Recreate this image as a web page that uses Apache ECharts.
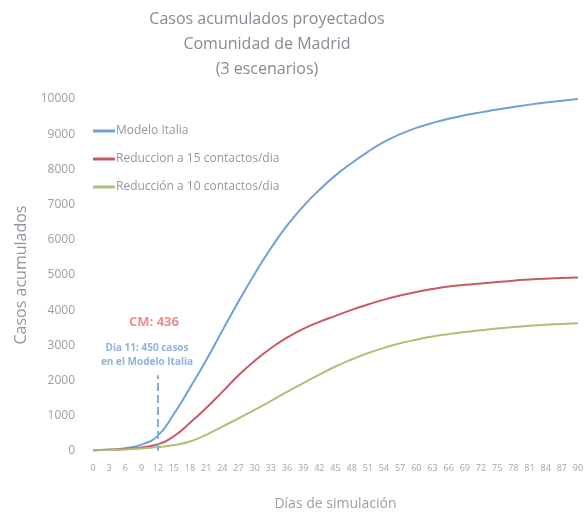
<!DOCTYPE html>
<html>
<head>
<meta charset="utf-8">
<title>Casos acumulados proyectados</title>
<script src="https://cdn.jsdelivr.net/npm/echarts@6/dist/echarts.min.js"></script>
<style>
  body { margin: 0; background: #fff; }
  #chart { width: 587px; height: 516px; }
</style>
</head>
<body>
<div id="chart"></div>
<script>
// dias de simulacion (cada 3 dias)
var dias = [0, 3, 6, 9, 12, 15, 18, 21, 24, 27, 30, 33, 36, 39, 42, 45, 48, 51, 54, 57, 60, 63, 66, 69, 72, 75, 78, 81, 84, 87, 90];

var modeloItalia = [20, 40, 80, 180, 430, 1050, 1800, 2580, 3420, 4250, 5030, 5760, 6400, 6950, 7420, 7830, 8180, 8500, 8780, 9000, 9180, 9320, 9440, 9540, 9620, 9700, 9770, 9840, 9900, 9950, 10000];
var reduccion15 = [20, 35, 60, 100, 190, 420, 800, 1220, 1680, 2150, 2560, 2920, 3220, 3470, 3670, 3840, 4010, 4160, 4300, 4420, 4520, 4600, 4670, 4720, 4760, 4800, 4840, 4870, 4895, 4915, 4930];
var reduccion10 = [20, 30, 45, 70, 110, 170, 270, 460, 690, 930, 1170, 1420, 1680, 1930, 2170, 2400, 2600, 2780, 2930, 3060, 3160, 3250, 3320, 3380, 3430, 3480, 3520, 3555, 3585, 3610, 3630];

var nombres = ['Modelo Italia', 'Reduccion a 15 contactos/dia', 'Reducción a 10 contactos/dia'];
var colores = ['#6fa0d8', '#c95a63', '#a9c27a'];

// anotacion dia 11
var diaMarca = 12;
var topeMarca = 2150;

function pares(arr) {
    return dias.map(function (d, i) { return [d, arr[i]]; });
}

var chart = echarts.init(document.getElementById('chart'));

var option = {
    animation: false,
    textStyle: { fontFamily: 'Open Sans' },
    title: {
        text: 'Casos acumulados proyectados\nComunidad de Madrid\n(3 escenarios)',
        left: 262,
        textAlign: 'center',
        top: 2,
        textStyle: { fontSize: 16, fontWeight: 'normal', color: '#858b95', lineHeight: 25, fontFamily: 'Open Sans' }
    },
    legend: {
        orient: 'vertical',
        left: 88,
        top: 120,
        itemGap: 16,
        itemWidth: 22,
        itemHeight: 3,
        icon: 'rect',
        data: nombres,
        textStyle: { fontSize: 12, color: '#9298a2', padding: [0, 0, 0, -4] }
    },
    grid: { left: 93, right: 9, top: 99, bottom: 61 },
    xAxis: {
        type: 'value',
        min: 0,
        max: 90,
        interval: 3,
        name: 'Días de simulación',
        nameLocation: 'middle',
        nameGap: 46,
        nameTextStyle: { fontSize: 14, color: '#9aa0a8' },
        axisLine: { show: false },
        axisTick: { show: false },
        splitLine: { show: false },
        axisLabel: { fontSize: 9, color: '#a0a4aa', margin: 13 }
    },
    yAxis: {
        type: 'value',
        min: 0,
        max: 10000,
        interval: 1000,
        name: 'Casos acumulados',
        nameLocation: 'middle',
        nameGap: 53,
        nameTextStyle: { fontSize: 16, color: '#8f959e' },
        axisLine: { show: false },
        axisTick: { show: false },
        splitLine: { show: false },
        axisLabel: {
            fontSize: 12,
            color: '#9aa0a8',
            margin: 18,
            formatter: function (v) { return String(v); }
        }
    },
    series: [
        {
            name: nombres[0],
            type: 'line',
            smooth: true,
            showSymbol: false,
            data: pares(modeloItalia),
            lineStyle: { width: 2, color: colores[0] },
            itemStyle: { color: colores[0] },
            markLine: {
                silent: true,
                symbol: 'none',
                lineStyle: { type: 'dashed', color: '#86acd9', width: 2 },
                label: { show: false },
                data: [[{ coord: [diaMarca, 0] }, { coord: [diaMarca, topeMarca] }]]
            }
        },
        {
            name: nombres[1],
            type: 'line',
            smooth: true,
            showSymbol: false,
            data: pares(reduccion15),
            lineStyle: { width: 2, color: colores[1] },
            itemStyle: { color: colores[1] }
        },
        {
            name: nombres[2],
            type: 'line',
            smooth: true,
            showSymbol: false,
            data: pares(reduccion10),
            lineStyle: { width: 2, color: colores[2] },
            itemStyle: { color: colores[2] }
        }
    ],
    graphic: [
        {
            type: 'text',
            x: 154,
            y: 316,
            style: { text: 'CM: 436', fontSize: 13, fontWeight: 'bold', fill: '#f08a8a', align: 'center', fontFamily: 'Open Sans' }
        },
        {
            type: 'text',
            x: 147,
            y: 341,
            style: { text: 'Dia 11: 450 casos\nen el Modelo Italia', fontSize: 10, fontWeight: 'bold', lineHeight: 14, fill: '#92b2e0', align: 'center', fontFamily: 'Open Sans' }
        }
    ]
};

chart.setOption(option);
</script>
</body>
</html>
